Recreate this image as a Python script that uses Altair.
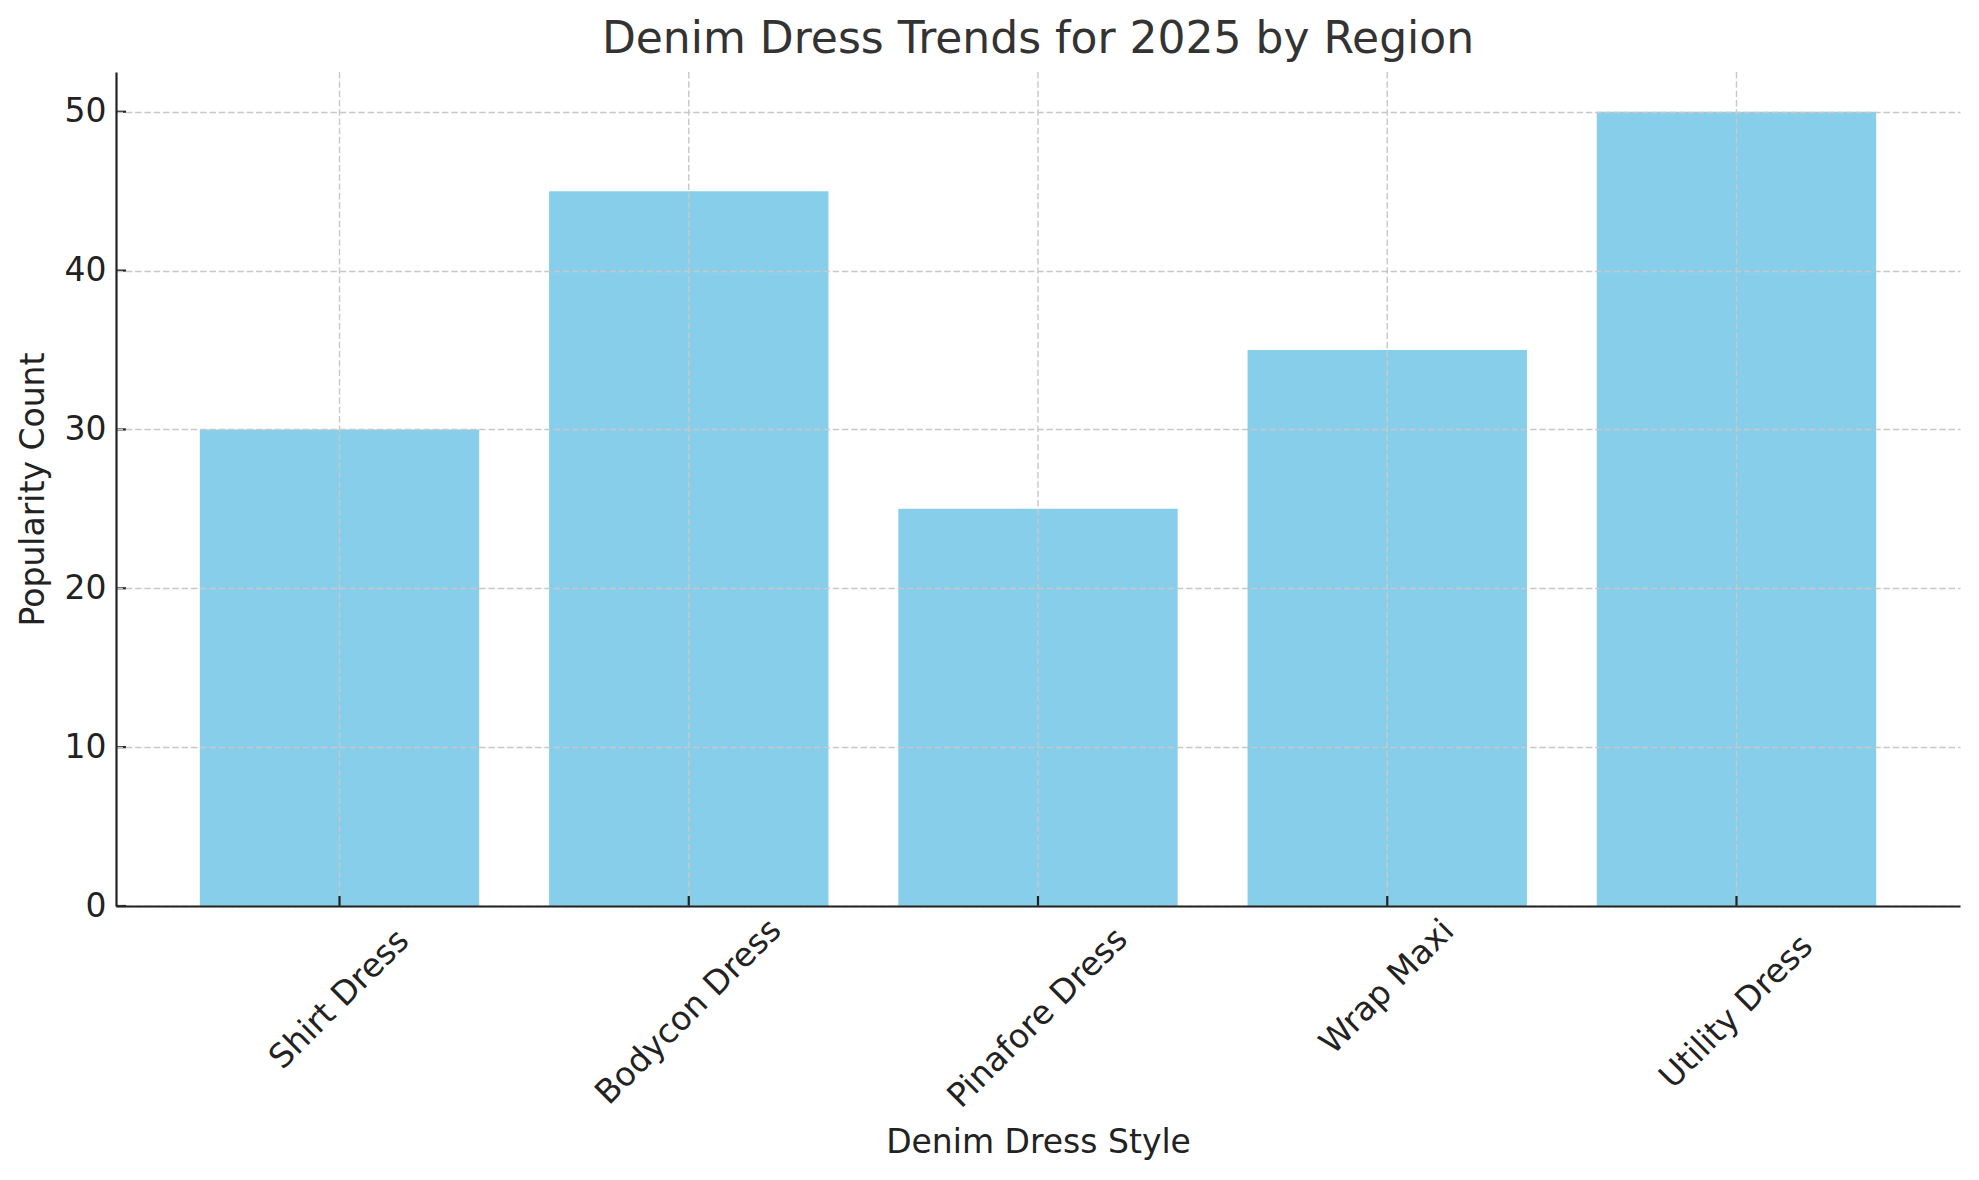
import altair as alt
import pandas as pd

# ---- data ----
styles = ["Shirt Dress", "Bodycon Dress", "Pinafore Dress", "Wrap Maxi", "Utility Dress"]
counts = [30, 45, 25, 35, 50]
y_ticks = [0, 10, 20, 30, 40, 50]

chart_title = "Denim Dress Trends for 2025 by Region"
x_title = "Denim Dress Style"
y_title = "Popularity Count"

# ---- styling ----
W, H = 1844, 834
FONT = "DejaVu Sans"
INK = "#222222"
GRID = "#c8c8c8"
BAR = "#87CEEB"
DASH = [6.5, 2.8]

df = pd.DataFrame({"style": styles, "count": counts})
ticks_df = pd.DataFrame({"count": y_ticks})

x_scale = alt.Scale(domain=styles, paddingInner=0.2, paddingOuter=0.24)
y_scale = alt.Scale(domain=[0, 52.5], nice=False, zero=True)

x_axis = alt.Axis(
    title=x_title, labels=False, ticks=False, grid=False,
    domain=True, domainColor=INK, domainWidth=2.2,
    titleFont=FONT, titleFontSize=33, titleFontWeight="normal",
    titleColor=INK, titleX=W / 2, titleY=246,
    titleBaseline="alphabetic", titleAlign="center", zindex=1,
)
y_axis = alt.Axis(
    title=y_title, values=y_ticks, grid=True, gridDash=DASH,
    gridColor=GRID, gridWidth=1.4, ticks=False, tickSize=0,
    labelPadding=10, labelFont=FONT, labelFontSize=33, labelColor=INK,
    domain=True, domainColor=INK, domainWidth=2.2,
    titleFont=FONT, titleFontSize=33, titleFontWeight="normal",
    titleColor=INK, titleX=-73, titleY=H / 2, titleAngle=270,
    titleAlign="center", titleBaseline="alphabetic", zindex=1,
)

x_enc = alt.X("style:N", scale=x_scale, sort=styles, axis=x_axis)
y_enc = alt.Y("count:Q", scale=y_scale, axis=y_axis)

base = alt.Chart(df)

bars = base.mark_bar(color=BAR).encode(x=x_enc, y=y_enc)

xgrid = base.mark_rule(color=GRID, strokeDash=DASH, strokeWidth=1.4).encode(
    x=x_enc, y=alt.value(0), y2=alt.value(H),
)

xticks = base.mark_rule(color=INK, strokeWidth=2.2).encode(
    x=x_enc, y=alt.value(H - 10), y2=alt.value(H),
)

yticks = alt.Chart(ticks_df).mark_rule(color=INK, strokeWidth=2.2).encode(
    y=y_enc, x=alt.value(0), x2=alt.value(10),
)

xlabels = base.mark_text(
    angle=315, align="center", baseline="middle", font=FONT, fontSize=33,
    color=INK,
    dx={"expr": "-4.375*length(datum.style)"},
    dy={"expr": "4.375*length(datum.style)"},
).encode(
    x=x_enc,
    y=alt.value(H + 25.5),
    text="style:N",
)

chart = alt.layer(bars, xgrid, xticks, yticks, xlabels).properties(
    width=W,
    height=H,
    background="white",
    title=alt.Title(
        chart_title, font=FONT, fontSize=44, fontWeight="normal",
        color="#333333", anchor="middle", baseline="alphabetic", offset=18,
        dy=44,
    ),
    autosize=alt.AutoSizeParams(type="none"),
    padding={"left": 108, "top": 64, "right": 11, "bottom": 258},
).configure_view(stroke=None)

chart.save("out.html", embed_options={"renderer": "svg", "actions": False})
